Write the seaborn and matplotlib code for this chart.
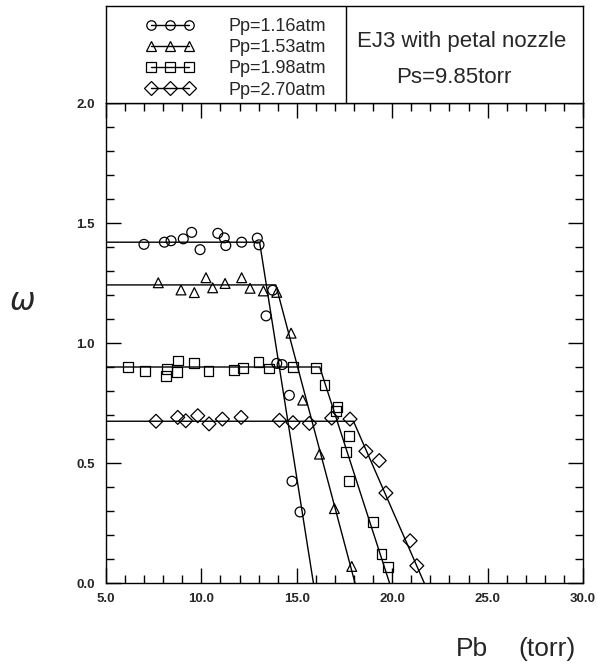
# -*- coding: utf-8 -*-
# EJ3 with petal nozzle: omega vs back pressure Pb, for four primary pressures

import numpy as np
import pandas as pd
import seaborn as sns
import matplotlib.pyplot as plt
from matplotlib.lines import Line2D
from matplotlib.legend_handler import HandlerLine2D
from matplotlib.ticker import MultipleLocator, FormatStrFormatter

# Data
labels = ["Pp=1.16atm", "Pp=1.53atm", "Pp=1.98atm", "Pp=2.70atm"]
marker_list = ["o", "^", "s", "D"]

circ_x = [6.99, 8.06, 8.41, 9.05, 9.49, 9.93, 10.86, 11.20, 11.28, 12.11, 12.93,
          13.02, 13.39, 13.74, 13.95, 14.23, 14.61, 14.75, 15.17]
circ_y = [1.411, 1.420, 1.426, 1.434, 1.461, 1.389, 1.457, 1.438, 1.406, 1.420, 1.437,
          1.409, 1.113, 1.220, 0.915, 0.910, 0.782, 0.424, 0.296]

tri_x = [7.74, 8.93, 9.63, 10.24, 10.59, 11.24, 12.11, 12.55, 13.25, 13.95, 14.70,
         15.31, 16.19, 16.97, 17.88]
tri_y = [1.251, 1.221, 1.210, 1.272, 1.230, 1.248, 1.272, 1.228, 1.217, 1.211, 1.041,
         0.762, 0.537, 0.310, 0.069]

sq_x = [6.17, 7.05, 8.18, 8.15, 8.74, 8.79, 9.61, 10.37, 11.71, 12.20, 12.99, 13.56,
        14.82, 16.00, 16.45, 17.13, 17.06, 17.74, 17.59, 17.74, 18.98, 19.44, 19.80]
sq_y = [0.901, 0.883, 0.890, 0.862, 0.880, 0.927, 0.917, 0.883, 0.886, 0.897, 0.920, 0.894,
        0.901, 0.897, 0.825, 0.734, 0.715, 0.611, 0.546, 0.424, 0.254, 0.121, 0.067]

dia_x = [7.62, 8.76, 9.18, 9.81, 10.40, 11.10, 12.08, 14.09, 14.80, 15.66, 16.83,
         17.79, 18.62, 19.32, 19.67, 20.94, 21.29]
dia_y = [0.674, 0.690, 0.676, 0.697, 0.663, 0.683, 0.690, 0.678, 0.668, 0.665, 0.687,
         0.683, 0.549, 0.510, 0.375, 0.176, 0.072]

# fitted lines: plateau level, knee position, zero crossing
plateau = [1.420, 1.242, 0.900, 0.674]
knee_x = [13.05, 13.90, 16.20, 17.97]
zero_x = [15.87, 18.05, 19.86, 21.68]

sns.set_style("ticks")
plt.rcParams["font.family"] = ["Liberation Sans", "DejaVu Sans"]
narrow = ["Liberation Sans Narrow", "Liberation Sans", "DejaVu Sans"]

frames = []
for lab, xs, ys in zip(labels, [circ_x, tri_x, sq_x, dia_x], [circ_y, tri_y, sq_y, dia_y]):
    frames.append(pd.DataFrame({"Pb": xs, "omega": ys, "Pp": lab}))
df = pd.concat(frames, ignore_index=True)

W, H = 598, 667
fig = plt.figure(figsize=(W / 100, H / 100), dpi=100)
ax = fig.add_axes([106 / W, 84 / H, 477 / W, 480 / H])
box = fig.add_axes([106 / W, 564 / H, 477 / W, 97 / H])

sns.scatterplot(data=df, x="Pb", y="omega", style="Pp",
                markers=dict(zip(labels, marker_list)), s=50,
                facecolor="none", edgecolor="black", linewidth=0.9,
                legend=False, ax=ax, zorder=3)

for p, k, z in zip(plateau, knee_x, zero_x):
    ax.plot([5, k, z], [p, p, 0], color="black", lw=1.0)

ax.set_xlim(5, 30)
ax.set_ylim(0, 2)
ax.xaxis.set_major_locator(MultipleLocator(5))
ax.xaxis.set_minor_locator(MultipleLocator(1))
ax.yaxis.set_major_locator(MultipleLocator(0.5))
ax.yaxis.set_minor_locator(MultipleLocator(0.1))
ax.xaxis.set_major_formatter(FormatStrFormatter("%.1f"))
ax.yaxis.set_major_formatter(FormatStrFormatter("%.1f"))
ax.tick_params(which="both", direction="in", top=True, right=True, width=1, color="black")
ax.tick_params(which="major", length=11, labelsize=9.5)
ax.tick_params(axis="x", which="major", pad=7)
ax.tick_params(axis="y", which="major", pad=8)
ax.tick_params(which="minor", length=6)
for lbl in ax.get_xticklabels() + ax.get_yticklabels():
    lbl.set_fontweight("bold")
ax.set_xlabel("")
ax.set_ylabel("")
for sp in ax.spines.values():
    sp.set_linewidth(1.0)
    sp.set_color("black")

# legend / title box above the plot
box.set_xlim(0, 1)
box.set_ylim(0, 1)
box.set_xticks([])
box.set_yticks([])
for sp in box.spines.values():
    sp.set_linewidth(1.0)
    sp.set_color("black")
box.axvline(0.503, color="black", lw=1.0)

handles = [Line2D([], [], color="black", lw=1.0, marker=m, ms=6.8,
                  mfc="none", mec="black", mew=0.9) for m in marker_list]
box.legend(handles, labels, loc="upper left", bbox_to_anchor=(0.061, 0.875),
           numpoints=3, handlelength=3.9, handletextpad=1.3, labelspacing=0.23,
           borderpad=0, borderaxespad=0, frameon=False,
           handler_map={Line2D: HandlerLine2D(marker_pad=0.89)},
           prop={"family": narrow, "size": 13})

box.text(0.746, 0.639, "EJ3 with petal nozzle", ha="center", va="center",
         family=narrow, size=16)
box.text(0.729, 0.268, "Ps=9.85torr", ha="center", va="center",
         family=narrow, size=16)

fig.text(472 / W, 1 - 649 / H, "Pb", ha="center", va="center", family=narrow, size=19)
fig.text(547 / W, 1 - 649 / H, "(torr)", ha="center", va="center", family=narrow, size=19)
fig.text(22 / W, 1 - 302 / H, r"$\omega$", ha="center", va="center", size=22)

fig.savefig("out.png", dpi=100)
